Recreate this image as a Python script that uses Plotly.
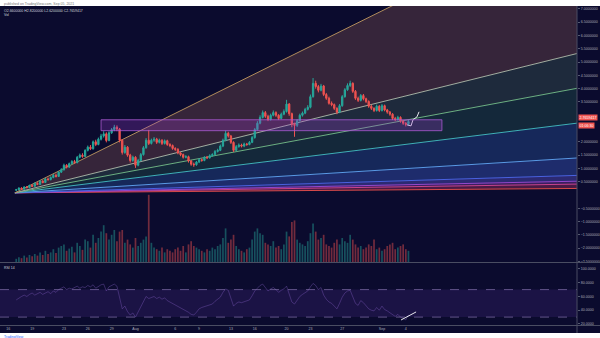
import pandas as pd
import plotly.graph_objects as go

# ---- 8h candles ----
bar_times = pd.date_range("2021-07-17 00:00", periods=149, freq="8h")
first_open = 0.18
closes = [
    0.20, 0.26, 0.22, 0.30, 0.28, 0.36, 0.33, 0.44, 0.40, 0.52, 0.47, 0.60, 0.58, 0.66, 0.74,
    0.70, 0.86, 0.95, 1.12, 1.05, 1.18, 1.26, 1.22, 1.42, 1.50, 1.45, 1.68, 1.80, 1.74, 2.00,
    1.90, 2.10, 2.22, 2.30, 2.05, 2.34, 2.46, 2.55, 2.48,
    2.06, 1.60, 1.80, 1.50, 1.30, 1.42, 1.12, 1.30, 1.52, 1.78, 2.06,
    1.94, 2.06, 2.10, 1.98, 2.06, 1.94, 2.04, 1.90, 1.86, 1.75, 1.72,
    1.58, 1.52, 1.42, 1.44, 1.28, 1.16, 1.14, 1.24, 1.33, 1.30,
    1.42, 1.40, 1.48, 1.52, 1.64, 1.68, 1.84, 2.06, 2.32, 2.22,
    1.98, 1.68, 1.82, 1.88, 1.84, 1.92, 1.90, 1.98, 2.16, 2.46,
    2.70, 2.92, 3.10, 2.96, 2.84, 3.00, 3.10, 3.00, 2.88, 3.04,
    3.14, 3.42, 3.06, 2.66, 2.62, 2.80, 3.00, 3.08, 3.22, 3.30,
    3.70, 4.20, 4.08, 3.94, 4.10, 3.78, 3.64, 3.45, 3.40, 3.26,
    3.12, 3.36, 3.70, 3.96, 4.12, 4.20, 3.90, 3.64, 3.56, 3.74,
    3.62, 3.52, 3.34, 3.26, 3.18, 3.34, 3.18, 3.36, 3.20, 3.12,
    3.04, 2.88, 2.84, 2.92, 2.78, 2.70, 2.66, 2.7659417,
]
highs = [
    0.23, 0.29, 0.29, 0.33, 0.34, 0.39, 0.40, 0.47, 0.48, 0.55, 0.56, 0.64, 0.65, 0.70, 0.79,
    0.80, 0.90, 1.01, 1.18, 1.16, 1.22, 1.31, 1.32, 1.47, 1.56, 1.57, 1.72, 1.86, 1.88, 2.05,
    2.08, 2.16, 2.30, 2.40, 2.36, 2.40, 2.52, 2.64, 2.62,
    2.52, 2.10, 1.88, 1.84, 1.55, 1.48, 1.46, 1.36, 1.58, 1.84, 2.14,
    2.45, 2.12, 2.18, 2.15, 2.12, 2.10, 2.09, 2.08, 1.95, 1.90, 1.80,
    1.76, 1.62, 1.56, 1.50, 1.48, 1.32, 1.22, 1.28, 1.38, 1.37,
    1.46, 1.47, 1.53, 1.57, 1.69, 1.74, 1.90, 2.12, 2.42, 2.38,
    2.26, 2.02, 1.88, 1.94, 1.93, 1.97, 1.96, 2.03, 2.22, 2.52,
    2.78, 3.00, 3.18, 3.16, 3.02, 3.06, 3.18, 3.15, 3.04, 3.10,
    3.22, 3.58, 3.46, 3.10, 2.72, 2.86, 3.06, 3.14, 3.28, 3.38,
    3.78, 4.40, 4.30, 4.14, 4.18, 4.14, 3.84, 3.70, 3.52, 3.44,
    3.30, 3.42, 3.76, 4.02, 4.20, 4.30, 4.24, 3.95, 3.70, 3.80,
    3.80, 3.66, 3.56, 3.40, 3.30, 3.40, 3.38, 3.42, 3.40, 3.24,
    3.16, 3.08, 2.94, 2.98, 2.96, 2.82, 2.74, 2.82,
]
lows = [
    0.15, 0.18, 0.19, 0.20, 0.25, 0.26, 0.30, 0.31, 0.37, 0.38, 0.44, 0.45, 0.54, 0.55, 0.63,
    0.66, 0.68, 0.83, 0.92, 1.00, 1.02, 1.14, 1.18, 1.19, 1.38, 1.40, 1.43, 1.64, 1.69, 1.71,
    1.84, 1.87, 2.05, 2.16, 1.98, 2.02, 2.30, 2.40, 2.40,
    1.98, 1.52, 1.55, 1.44, 1.22, 1.25, 1.02, 1.08, 1.27, 1.48, 1.74,
    1.88, 1.90, 2.00, 1.92, 1.94, 1.88, 1.90, 1.85, 1.80, 1.70, 1.66,
    1.53, 1.46, 1.37, 1.38, 1.22, 1.10, 1.06, 1.10, 1.20, 1.25,
    1.27, 1.35, 1.37, 1.44, 1.49, 1.60, 1.65, 1.80, 2.02, 2.16,
    1.92, 1.62, 1.65, 1.78, 1.79, 1.80, 1.85, 1.87, 1.95, 2.12,
    2.42, 2.66, 2.88, 2.90, 2.78, 2.80, 2.96, 2.94, 2.82, 2.85,
    3.00, 3.10, 2.98, 2.55, 2.19, 2.56, 2.76, 2.95, 3.04, 3.18,
    3.26, 3.66, 4.00, 3.86, 3.90, 3.72, 3.58, 3.40, 3.34, 3.20,
    3.04, 3.08, 3.32, 3.66, 3.92, 4.06, 3.84, 3.58, 3.50, 3.52,
    3.56, 3.46, 3.28, 3.20, 3.12, 3.14, 3.12, 3.14, 3.15, 3.06,
    2.98, 2.82, 2.78, 2.80, 2.72, 2.64, 2.58, 2.62,
]
volumes = [
    0.10, 0.15, 0.12, 0.20, 0.14, 0.22, 0.18, 0.25, 0.20, 0.30, 0.22, 0.35, 0.25, 0.30, 0.40,
    0.28, 0.45, 0.50, 0.55, 0.35, 0.42, 0.48, 0.30, 0.60, 0.50, 0.38, 0.70, 0.65, 0.45, 0.85,
    0.60, 0.75, 0.95, 1.15, 0.90, 0.70, 0.85, 1.00, 0.65,
    0.95, 1.00, 0.60, 0.70, 0.55, 0.45, 0.75, 0.50, 0.60, 0.70, 0.80,
    2.10, 0.60, 0.45, 0.40, 0.35, 0.45, 0.30, 0.40, 0.35, 0.30, 0.40,
    0.45, 0.35, 0.50, 0.30, 0.55, 0.65, 0.50, 0.45, 0.40, 0.35,
    0.30, 0.40, 0.35, 0.45, 0.40, 0.50, 0.55, 0.75, 1.05, 0.60,
    0.70, 0.85, 0.50, 0.40, 0.35, 0.30, 0.40, 0.45, 0.70, 0.95,
    1.05, 0.90, 0.85, 0.60, 0.55, 0.50, 0.65, 0.45, 0.50, 0.40,
    0.55, 0.95, 0.80, 1.25, 1.30, 0.70, 0.60, 0.55, 0.50, 0.65,
    0.90, 1.20, 0.95, 0.70, 0.75, 0.85, 0.55, 0.50, 0.45, 0.60,
    0.70, 0.55, 0.75, 0.65, 0.60, 0.85, 0.70, 0.55, 0.45, 0.50,
    0.40, 0.45, 0.55, 0.50, 0.70, 0.40, 0.45, 0.35, 0.40, 0.50,
    0.55, 0.60, 0.40, 0.45, 0.50, 0.55, 0.40, 0.35,
]
rsi = [
    55, 58, 60, 62, 60, 63, 65, 62, 64, 66, 63, 65, 67, 64, 68,
    66, 70, 72, 74, 70, 72, 71, 73, 75, 72, 74, 73, 76, 74, 77,
    72, 75, 77, 78, 68, 74, 76, 78, 75,
    58, 42, 46, 38, 33, 36, 30, 38, 45, 52, 60,
    57, 59, 60, 57, 59, 56, 58, 54, 52, 50, 48,
    45, 43, 41, 40, 37, 34, 33, 37, 42, 44,
    45, 46, 47, 49, 53, 56, 59, 66, 71, 69,
    58, 46, 50, 52, 51, 52, 53, 55, 61, 68,
    72, 76, 78, 72, 68, 71, 73, 70, 66, 69,
    71, 75, 64, 52, 49, 55, 60, 63, 65, 68,
    74, 79, 76, 70, 73, 62, 56, 52, 50, 46,
    42, 50, 59, 65, 68, 69, 58, 50, 47, 54,
    51, 46, 42, 40, 39, 44, 40, 46, 41, 39,
    36, 33, 31, 34, 30, 28, 26, 33,
]

# ---- drawings ----
zone_start, zone_end = "2021-07-27 16:00", "2021-09-08 13:00"
zone_low, zone_high = 2.42, 2.83

path_times = ["2021-09-04 03:30", "2021-09-04 15:40", "2021-09-04 21:40", "2021-09-05 09:40", "2021-09-05 16:00"]
path_prices = [2.64, 2.60, 2.83, 2.94, 3.13]
rsi_line_times = ["2021-09-03 09:40", "2021-09-05 07:00"]
rsi_line_values = [25.8, 37.5]

# Gann fan: origin, 1x1 slope (price per day) and levels from bottom to top
fan_origin_time = pd.Timestamp("2021-07-16 20:00")
fan_origin_price = 0.083
fan_unit_per_day = 0.01853
fan_end_time = pd.Timestamp("2021-09-30 00:00")
fan_levels = [1 / 8, 1 / 4, 1 / 3, 1 / 2, 1, 2, 3, 4, 8]
fan_line_colors = ["#d84a4a", "#c8448c", "#9448cc", "#4a62e0", "#5a9ae6",
                   "#3fb0b8", "#6cb082", "#a3aea0", "#b08c5c"]
fan_band_colors = [None, "#4a1a46", "#3a1f5e", "#2c2a72", "#1e2c6c",
                   "#16285a", "#14283a", "#1e2a3c", "#36253a"]

# price scale labels (3.0, 2.5 sit under the last-price tag; 0 is not labelled)
price_ticks = [7.0, 6.5, 6.0, 5.5, 5.0, 4.5, 4.0, 3.5, 2.0, 1.5, 1.0, 0.5,
               -0.5, -1.0, -1.5, -2.0, -2.5]
rsi_ticks = [100, 80, 60, 40, 20]
date_ticks = ["2021-07-16", "2021-07-19", "2021-07-23", "2021-07-26", "2021-07-29", "2021-08-01",
              "2021-08-06", "2021-08-09", "2021-08-13", "2021-08-16", "2021-08-20", "2021-08-23",
              "2021-08-27", "2021-09-01", "2021-09-04"]
date_labels = ["16", "19", "23", "26", "29", "Aug", "6", "9", "13", "16", "20", "23", "27", "Sep", "4"]

BG = "#0b0b2e"
TXT = "#a9acb8"
UP, DOWN = "#26a69a", "#ef5350"
FONT = "Liberation Sans"

opens = [first_open] + closes[:-1]
x_range = ["2021-07-14 23:00", "2021-09-25 12:45"]
price_range = [-2.52, 7.11]
W, H = 600, 338
x_right = 577 / W
price_dom = [(H - 262) / H, (H - 6) / H]
rsi_dom = [(H - 325) / H, (H - 263) / H]

fig = go.Figure()

# Gann fan lines with filled bands (base price axes, drawn underneath)
fan_days = (fan_end_time - fan_origin_time) / pd.Timedelta(days=1)
for lvl, lc, bc in zip(fan_levels, fan_line_colors, fan_band_colors):
    fig.add_trace(go.Scatter(
        x=[fan_origin_time, fan_end_time],
        y=[fan_origin_price, fan_origin_price + lvl * fan_unit_per_day * fan_days],
        mode="lines", line=dict(color=lc, width=1),
        fill="tonexty" if bc else None, fillcolor=bc,
        xaxis="x", yaxis="y", hoverinfo="skip", showlegend=False,
    ))

# volume overlay
vol_colors = ["rgba(38,166,154,0.45)" if c >= o else "rgba(239,83,80,0.45)"
              for o, c in zip(opens, closes)]
fig.add_trace(go.Bar(x=bar_times, y=volumes, marker=dict(color=vol_colors, line=dict(width=0)),
                     xaxis="x", yaxis="y3", showlegend=False))

# candles on an overlaid copy of the price axis so they sit above the fan
fig.add_trace(go.Candlestick(
    x=bar_times, open=opens, high=highs, low=lows, close=closes,
    increasing=dict(line=dict(color=UP, width=1), fillcolor=UP),
    decreasing=dict(line=dict(color=DOWN, width=1), fillcolor=DOWN),
    whiskerwidth=0, xaxis="x", yaxis="y4", showlegend=False,
))
fig.add_trace(go.Scatter(x=path_times, y=path_prices, mode="lines",
                         line=dict(color="#e8e8ee", width=1), xaxis="x", yaxis="y4",
                         showlegend=False))

fig.add_trace(go.Scatter(x=bar_times, y=rsi, mode="lines",
                         line=dict(color="rgba(140,100,205,0.35)", width=1),
                         xaxis="x2", yaxis="y2", showlegend=False))
fig.add_trace(go.Scatter(x=rsi_line_times, y=rsi_line_values, mode="lines",
                         line=dict(color="#e8e8ee", width=1), xaxis="x2", yaxis="y2",
                         showlegend=False))

tickfont = dict(family=FONT, size=3.6, color=TXT)
fig.update_layout(
    width=W, height=H, margin=dict(l=0, r=0, t=0, b=0),
    paper_bgcolor=BG, plot_bgcolor=BG, showlegend=False, bargap=0.35,
    xaxis=dict(domain=[0, x_right], range=x_range, anchor="y", showgrid=False,
               showticklabels=False, zeroline=False, rangeslider=dict(visible=False)),
    xaxis2=dict(domain=[0, x_right], range=x_range, anchor="y2", matches="x", showgrid=False,
                zeroline=False, tickmode="array", tickvals=date_ticks, ticktext=date_labels,
                tickfont=tickfont, ticks="", automargin=False),
    yaxis=dict(domain=price_dom, range=price_range, side="right", showgrid=False,
               zeroline=False, tickmode="array", tickvals=price_ticks,
               ticktext=[f"{v:.7f}".replace("-", "\u2212") for v in price_ticks],
               tickfont=tickfont, ticks="outside", ticklen=2, tickcolor="#555a70",
               automargin=False),
    yaxis3=dict(overlaying="y", range=[0, 8], visible=False),
    yaxis4=dict(overlaying="y", range=price_range, visible=False),
    yaxis2=dict(domain=rsi_dom, range=[18.5, 108.7], side="right", showgrid=False,
                zeroline=False, tickmode="array", tickvals=rsi_ticks,
                ticktext=[f"{v:.4f}" for v in rsi_ticks], tickfont=tickfont,
                ticks="outside", ticklen=2, tickcolor="#555a70", automargin=False),
)

shapes = [
    # RSI band and its bounds
    dict(type="rect", xref="x2 domain", yref="y2", x0=0, x1=1, y0=30, y1=70,
         fillcolor="rgba(110,60,190,0.16)", line=dict(width=0), layer="below"),
    dict(type="line", xref="x2 domain", yref="y2", x0=0, x1=1, y0=70, y1=70,
         line=dict(color="rgba(150,130,190,0.6)", width=1, dash="dash")),
    dict(type="line", xref="x2 domain", yref="y2", x0=0, x1=1, y0=30, y1=30,
         line=dict(color="rgba(150,130,190,0.6)", width=1, dash="dash")),
    # zone rectangle
    dict(type="rect", xref="x", yref="y", x0=zone_start, x1=zone_end, y0=zone_low, y1=zone_high,
         fillcolor="rgba(156,60,200,0.28)", line=dict(color="rgba(170,90,210,0.8)", width=1),
         layer="above"),
    # pane separators and axis border
    dict(type="line", xref="paper", yref="paper", x0=0, x1=1, y0=(H - 262.5) / H, y1=(H - 262.5) / H,
         line=dict(color="#4a4d62", width=1)),
    dict(type="line", xref="paper", yref="paper", x0=0, x1=1, y0=(H - 325.5) / H, y1=(H - 325.5) / H,
         line=dict(color="#4a4d62", width=1)),
    dict(type="line", xref="paper", yref="paper", x0=x_right, x1=x_right, y0=(H - 333) / H, y1=(H - 6) / H,
         line=dict(color="#4a4d62", width=1)),
    # header and footer strips
    dict(type="rect", xref="paper", yref="paper", x0=0, x1=1, y0=(H - 6) / H, y1=1,
         fillcolor="white", line=dict(width=0)),
    dict(type="rect", xref="paper", yref="paper", x0=0, x1=1, y0=0, y1=(H - 333) / H,
         fillcolor="white", line=dict(width=0)),
]
fig.update_layout(shapes=shapes)

small = dict(family=FONT, size=3.5)
last_close = closes[-1]
annotations = [
    dict(xref="paper", yref="paper", x=0.003, y=1, xanchor="left", yanchor="top",
         text="published on TradingView.com, Sep 05, 2021", showarrow=False,
         font=dict(**small, color="#777777")),
    dict(xref="paper", yref="paper", x=0.003, y=(H - 7) / H, xanchor="left", yanchor="top",
         text=f"O{opens[-1]:.7f} H{highs[-1]:.7f} L{lows[-1]:.7f} C{last_close:.7f}",
         showarrow=False, font=dict(**small, color="#d1d4dc")),
    dict(xref="paper", yref="paper", x=0.003, y=(H - 11) / H, xanchor="left", yanchor="top",
         text="Vol", showarrow=False, font=dict(**small, color="#d1d4dc")),
    dict(xref="paper", yref="paper", x=0.003, y=(H - 263.5) / H, xanchor="left", yanchor="top",
         text="RSI 14", showarrow=False, font=dict(**small, color="#d1d4dc")),
    dict(xref="paper", yref="paper", x=0.003, y=(H - 333) / H, xanchor="left", yanchor="top",
         text="TradingView", showarrow=False, font=dict(**small, color="#2962ff")),
    dict(xref="paper", yref="y", x=x_right + 0.001, y=last_close + 0.03, xanchor="left",
         yanchor="bottom", text=f"{last_close:.7f}", showarrow=False, bgcolor=DOWN, borderpad=0.5,
         font=dict(family=FONT, size=3.6, color="white")),
    dict(xref="paper", yref="y", x=x_right + 0.001, y=last_close - 0.03, xanchor="left",
         yanchor="top", text="01:06:30", showarrow=False, bgcolor=DOWN, borderpad=0.5,
         font=dict(family=FONT, size=3.6, color="white")),
]
fig.update_layout(annotations=annotations)

fig.write_html("out.html")
